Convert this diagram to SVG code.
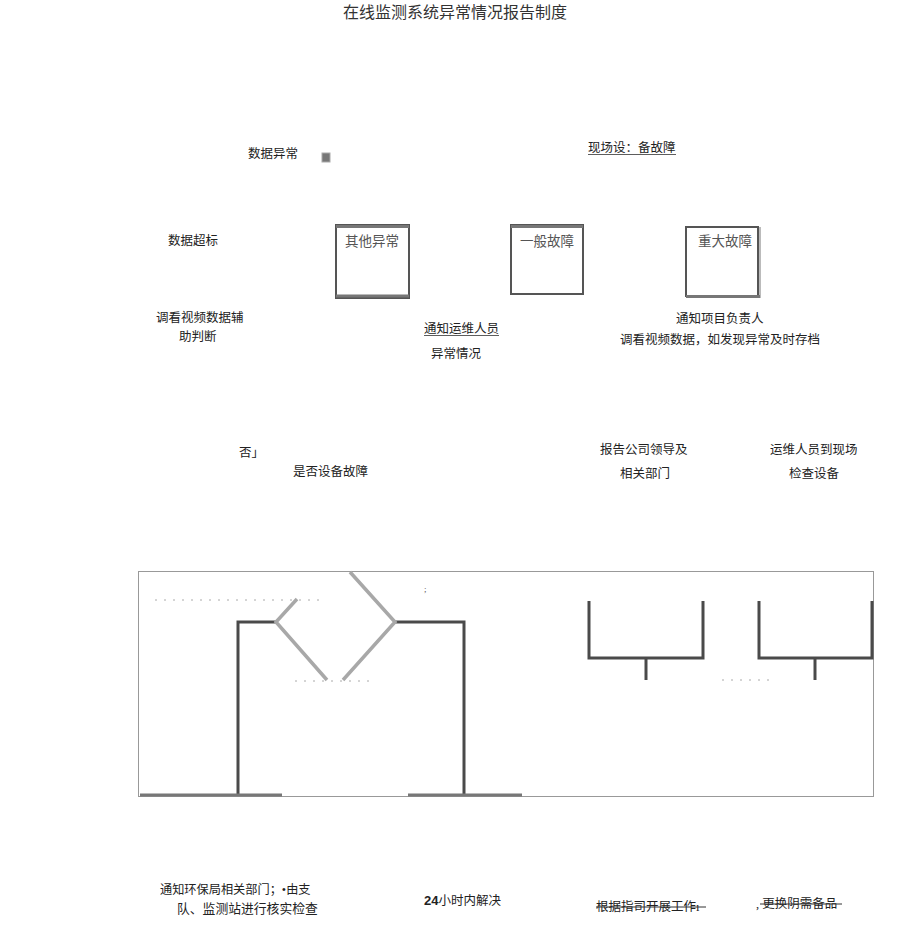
<svg xmlns="http://www.w3.org/2000/svg" width="920" height="948" viewBox="0 0 920 948">
<style>
text{font-family:"Liberation Serif","Noto Sans CJK SC",serif;font-size:12.5px;fill:#222}
.title{font-size:16px;fill:#333}
.box{fill:#fff;stroke:#555;stroke-width:2}
.band{stroke:#777;stroke-width:3;fill:none}
.boxt{font-size:13.5px;fill:#555}
.dark{stroke:#4a4a4a;stroke-width:3;fill:none}
.light{stroke:#a8a8a8;stroke-width:3.5;fill:none}
.dot{stroke:#aaa;stroke-width:1;stroke-dasharray:2 7;fill:none}
.strike{stroke:#333;stroke-width:1}
</style>
<rect width="920" height="948" fill="#fff"/>
<text class="title" x="343" y="18">在线监测系统异常情况报告制度</text>

<g id="n-data-abnormal"><text x="248" y="158">数据异常</text>
<rect x="322" y="153" width="8" height="9" fill="#777" stroke="#aaa" stroke-width="1"/></g>
<g id="n-field-fault"><text x="588" y="152">现场设：备故障</text>
<line x1="588" y1="154.5" x2="676" y2="154.5" stroke="#333" stroke-width="0.8"/></g>
<g id="n-over"><text x="168" y="245">数据超标</text></g>

<g id="n-other"><rect class="box" x="336" y="225" width="73" height="73"/>
<line class="band" x1="336" y1="226.5" x2="409" y2="226.5"/>
<line class="band" x1="336" y1="296" x2="409" y2="296"/>
<text class="boxt" x="345" y="246">其他异常</text></g>
<g id="n-general"><rect class="box" x="511" y="225" width="72" height="69"/>
<line class="band" x1="511" y1="226.5" x2="583" y2="226.5"/>
<text class="boxt" x="520" y="246">一般故障</text></g>
<g id="n-major"><rect class="box" x="686" y="227" width="72" height="69"/>
<line x1="760" y1="227" x2="760" y2="298" stroke="#bbb" stroke-width="2"/>
<line class="band" x1="686" y1="296.5" x2="760" y2="296.5"/>
<text class="boxt" x="698" y="246">重大故障</text></g>

<g id="n-video"><text x="156" y="322">调看视频数据辅</text><text x="179" y="341">助判断</text></g>
<g id="n-notify-ops"><text x="424" y="333">通知运维人员</text>
<line x1="424" y1="335.5" x2="499" y2="335.5" stroke="#333" stroke-width="0.8"/></g>
<g id="n-abn"><text x="431" y="358">异常情况</text></g>
<g id="n-notify-pm"><text x="676" y="323">通知项目负责人</text>
<text x="620" y="344">调看视频数据，如发现异常及时存档</text></g>

<g id="n-no"><text x="239" y="457">否」</text></g>
<g id="n-isfault"><text x="293" y="476">是否设备故障</text></g>
<g id="n-report"><text x="600" y="454">报告公司领导及</text><text x="620" y="478">相关部门</text></g>
<g id="n-check"><text x="770" y="454">运维人员到现场</text><text x="789" y="478">检查设备</text></g>

<g id="connectors">
<rect x="138.5" y="571.5" width="735" height="225" fill="none" stroke="#999" stroke-width="1"/>
<path class="dark" d="M238 795 V622 H276"/>
<path class="dark" d="M395 622 H464 V795"/>
<path class="light" d="M297 599 L276 622 L327 680"/>
<path class="light" d="M350 572 L395 622 L343 680"/>
<line x1="140" y1="795" x2="282" y2="795" stroke="#777" stroke-width="3"/>
<line x1="408" y1="795" x2="522" y2="795" stroke="#777" stroke-width="3"/>
<line class="dot" x1="155" y1="600" x2="323" y2="600"/>
<line class="dot" x1="295" y1="681" x2="370" y2="681"/>
<line class="dot" x1="722" y1="680" x2="776" y2="680"/>
<path class="dark" d="M589 601 V658 H703 V601"/>
<path class="dark" d="M646 658 V680"/>
<path class="dark" d="M759 601 V658 H872 V601"/>
<path class="dark" d="M815 658 V680"/>
</g>
<text x="424" y="592" style="font-size:9px;fill:#555">;</text>

<g id="n-epb"><text x="160" y="894" style="font-size:12.2px">通知环保局相关部门；•由支</text>
<text x="177" y="913" style="font-size:12.8px">队、监测站进行核实检查</text></g>
<g id="n-24h"><text x="424" y="905"><tspan style="font-family:'Liberation Sans',sans-serif;font-size:13px;font-weight:bold">24</tspan>小时内解决</text></g>
<g id="n-guide"><text x="596" y="911">根据指司开展工作ı</text>
<line class="strike" x1="596" y1="907" x2="706" y2="907"/></g>
<g id="n-replace"><text x="756" y="908">, 更换阴需备品</text>
<line class="strike" x1="760" y1="904" x2="842" y2="904"/></g>
</svg>
